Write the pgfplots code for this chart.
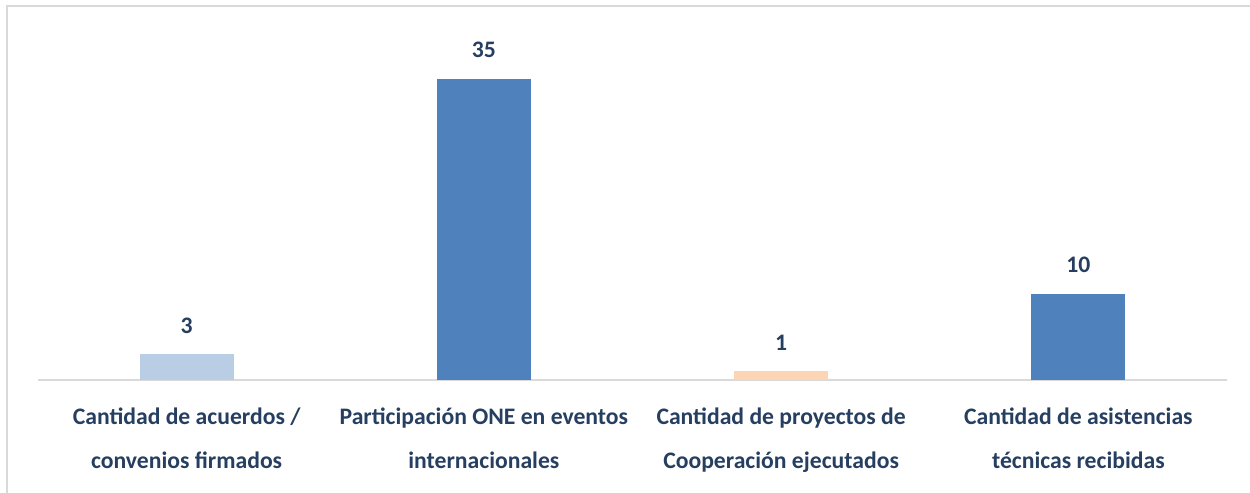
\documentclass[border=0pt]{standalone}
\usepackage{pgfplots}
\pgfplotsset{compat=1.18}
\usepackage{fontspec}
\setmainfont{Carlito}
\definecolor{txt}{HTML}{263F61}
\definecolor{lb}{HTML}{B9CDE5}
\definecolor{db}{HTML}{4F81BD}
\definecolor{pe}{HTML}{FCD5B5}
\definecolor{gr}{HTML}{D9D9D9}
\begin{document}
\begin{tikzpicture}
\path[use as bounding box] (0pt,0pt) rectangle (750pt,295.8pt);
\draw[gr,line width=1.5pt] (4.2pt,0pt) -- (4.2pt,292.2pt) -- (750pt,292.2pt);
\begin{axis}[
  at={(22.8pt,67.8pt)}, anchor=south west,
  scale only axis, width=713.4pt, height=206.4pt,
  xmin=-0.5, xmax=3.5, ymin=0, ymax=40,
  axis y line=none, axis x line*=bottom,
  x axis line style={gr, line width=1.2pt, -},
  xtick={0,1,2,3}, major tick length=0pt,
  xticklabels={{Cantidad de acuerdos /\\convenios firmados},
               {Participación ONE en eventos\\internacionales},
               {Cantidad de proyectos de\\Cooperación ejecutados},
               {Cantidad de asistencias\\técnicas recibidas}},
  xticklabel style={font=\bfseries\fontsize{14.2}{26.5}\selectfont, text=txt, align=center, anchor=north, yshift=-13.3pt},
  ybar, bar width=56.4pt, bar shift=0pt,
  /pgf/number format/assume math mode=true,
  nodes near coords,
  nodes near coords style={font=\bfseries\fontsize{14.2}{16}\selectfont, text=txt, yshift=9pt},
  clip=false,
]
\addplot[fill=lb, draw=none] coordinates {(0,3)};
\addplot[fill=db, draw=none] coordinates {(1,35)};
\addplot[fill=pe, draw=none] coordinates {(2,1)};
\addplot[fill=db, draw=none] coordinates {(3,10)};
\end{axis}
\end{tikzpicture}
\end{document}
